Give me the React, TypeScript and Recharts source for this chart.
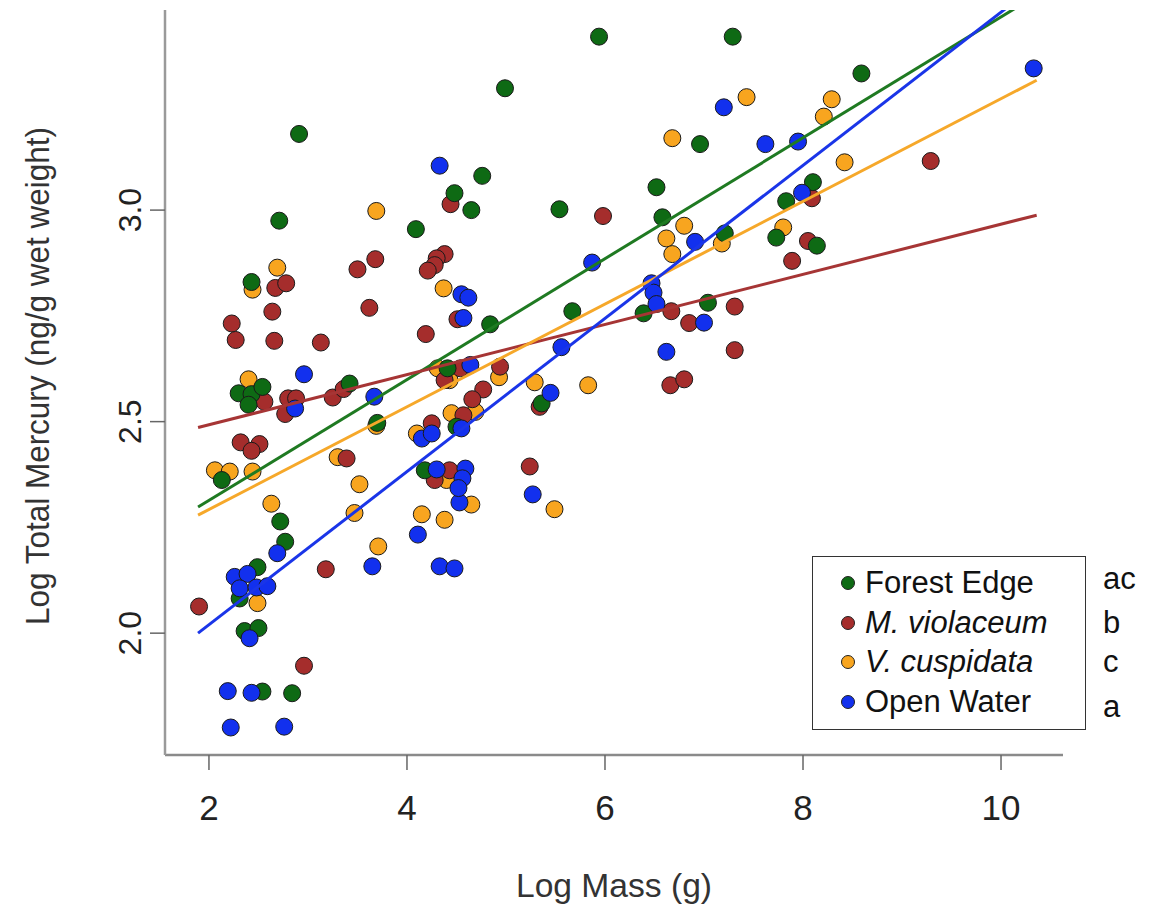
import React from 'react';
import { ScatterChart, Scatter, XAxis, YAxis, Label } from 'recharts';

// log mass (g), log total mercury (ng/g wet weight)
const forestEdge = [
  [2.91, 3.18], [4.48, 3.04], [2.71, 2.975], [4.09, 2.955], [2.43, 2.83], [2.30, 2.567],
  [2.43, 2.565], [2.54, 2.582], [2.40, 2.54], [3.42, 2.59], [3.70, 2.497], [2.13, 2.362],
  [4.50, 2.488], [4.18, 2.385], [2.72, 2.264], [2.77, 2.216], [2.49, 2.156], [2.31, 2.082],
  [2.36, 2.005], [2.50, 2.012], [2.54, 1.862], [2.84, 1.858], [5.94, 3.41], [7.29, 3.41],
  [4.99, 3.288], [6.96, 3.156], [4.76, 3.081], [4.65, 3.0], [5.54, 3.002], [6.52, 3.054],
  [6.58, 2.983], [7.21, 2.945], [4.84, 2.73], [5.67, 2.761], [6.39, 2.756], [7.04, 2.781],
  [5.36, 2.543], [4.41, 2.626], [8.59, 3.323], [8.10, 3.066], [7.83, 3.021], [7.73, 2.935],
  [8.14, 2.916],
];

const violaceum = [
  [4.44, 3.014], [2.67, 2.816], [2.78, 2.827], [3.50, 2.86], [3.68, 2.884], [4.38, 2.896],
  [4.30, 2.886], [4.28, 2.87], [4.21, 2.857], [2.64, 2.76], [3.62, 2.769], [4.51, 2.742],
  [2.23, 2.732], [2.27, 2.693], [2.66, 2.691], [3.13, 2.687], [4.19, 2.707], [2.56, 2.547],
  [2.80, 2.555], [2.88, 2.555], [2.77, 2.518], [3.25, 2.557], [3.36, 2.577], [2.32, 2.451],
  [2.51, 2.447], [2.43, 2.431], [3.39, 2.413], [4.25, 2.496], [4.28, 2.362], [4.43, 2.385],
  [3.18, 2.151], [1.90, 2.063], [2.96, 1.923], [5.98, 2.986], [6.67, 2.761], [7.31, 2.772],
  [6.85, 2.733], [7.31, 2.669], [6.66, 2.586], [6.80, 2.60], [5.34, 2.535], [4.94, 2.63],
  [4.54, 2.626], [4.38, 2.598], [4.77, 2.576], [4.66, 2.553], [4.57, 2.515], [5.24, 2.394],
  [9.29, 3.116], [8.09, 3.028], [8.05, 2.927], [7.89, 2.88],
];

const cuspidata = [
  [3.69, 2.998], [2.69, 2.864], [2.44, 2.812], [4.37, 2.815], [2.40, 2.60], [3.69, 2.49],
  [4.10, 2.472], [3.30, 2.416], [2.06, 2.385], [2.21, 2.382], [2.44, 2.382], [3.52, 2.352],
  [2.63, 2.306], [3.47, 2.284], [3.71, 2.205], [4.15, 2.281], [4.38, 2.268], [2.49, 2.071],
  [7.43, 3.267], [6.68, 3.17], [6.80, 2.963], [6.62, 2.933], [7.18, 2.921], [6.68, 2.896],
  [5.83, 2.586], [5.29, 2.593], [4.93, 2.605], [4.31, 2.626], [4.43, 2.598], [4.45, 2.52],
  [4.69, 2.523], [4.40, 2.362], [4.65, 2.304], [5.49, 2.293], [8.29, 3.262], [8.21, 3.221],
  [8.42, 3.113], [7.80, 2.959],
];

const openWater = [
  [4.33, 3.105], [2.96, 2.612], [2.87, 2.531], [3.67, 2.559], [4.15, 2.46], [4.25, 2.472],
  [2.69, 2.189], [3.65, 2.158], [4.11, 2.233], [4.33, 2.158], [4.48, 2.153], [4.53, 2.309],
  [2.26, 2.133], [2.39, 2.14], [2.31, 2.106], [2.48, 2.108], [2.59, 2.111], [2.41, 1.988],
  [2.19, 1.863], [2.43, 1.859], [2.22, 1.777], [2.76, 1.779], [7.20, 3.243], [6.91, 2.925],
  [5.87, 2.876], [4.55, 2.801], [4.62, 2.793], [4.57, 2.745], [5.56, 2.676], [6.47, 2.827],
  [6.49, 2.805], [6.52, 2.778], [7.00, 2.734], [6.62, 2.665], [5.45, 2.568], [4.64, 2.634],
  [4.55, 2.484], [5.27, 2.328], [4.30, 2.387], [4.59, 2.389], [4.56, 2.366], [4.52, 2.343],
  [10.33, 3.335], [7.62, 3.156], [7.95, 3.162], [7.99, 3.041],
];

// fitted lines, end points
const fitForest = [[1.89, 2.298], [10.36, 3.508]];
const fitViolaceum = [[1.89, 2.486], [10.36, 2.988]];
const fitCuspidata = [[1.89, 2.279], [10.36, 3.307]];
const fitOpen = [[1.89, 2.0], [10.36, 3.533]];

const groupNames = ['Forest Edge', 'M. violaceum', 'V. cuspidata', 'Open Water'];
const groupLetters = ['ac', 'b', 'c', 'a'];
const groupItalic = [false, true, true, false];
const pointColors = ['#0e6a14', '#a52d2c', '#f8a51f', '#1230ee'];
const lineColors = ['#1f7a22', '#a63535', '#f6a82a', '#1a35e8'];

const xTicks = [2, 4, 6, 8, 10];
const yTicks = [2.0, 2.5, 3.0];

const toPts = (arr: number[][]) => arr.map(([x, y]) => ({ x, y }));

const axisFont = "'Liberation Sans', Arial, sans-serif";

const dot = (color: string) => (props: any) => (
  <circle cx={props.cx} cy={props.cy} r={8.5} fill={color} stroke="#1a1a1a" strokeWidth={1} />
);

const noDot = () => <g />;

const YTick = (props: any) => {
  const { x, y, payload } = props;
  return (
    <text x={x} y={y} transform={`rotate(-90 ${x} ${y})`} textAnchor="middle"
      fontSize={32} fill="#222" fontFamily={axisFont}>
      {Number(payload.value).toFixed(1)}
    </text>
  );
};

const XTitle = () => (
  <text x={606} y={889} textAnchor="middle" fontSize={34} fill="#333" fontFamily={axisFont}
    textLength={196} lengthAdjust="spacingAndGlyphs">
    Log Mass (g)
  </text>
);

const YTitle = () => (
  <text x={41} y={368} transform="rotate(-90 41 368)" textAnchor="middle" fontSize={34} fill="#333"
    fontFamily={axisFont} textLength={498} lengthAdjust="spacingAndGlyphs">
    Log Total Mercury (ng/g wet weight)
  </text>
);

const letterShift = [-4, 0, 0, 5];

const LegendBox = () => (
  <div style={{ position: 'absolute', left: 804, top: 548, width: 340, height: 180, fontFamily: axisFont, color: '#111' }}>
    <div style={{ position: 'absolute', left: 0, top: 0, width: 272, height: 172, border: '1.5px solid #333', background: '#fff' }} />
    {groupNames.map((name, i) => (
      <React.Fragment key={name}>
        <div style={{ position: 'absolute', left: 29, top: 9 + i * 39.5 + 11, width: 14, height: 14, borderRadius: 7, background: pointColors[i], boxSizing: 'border-box', border: '1px solid #222' }} />
        <div style={{ position: 'absolute', left: 53, top: 9 + i * 39.5, fontSize: 31, lineHeight: '36px', fontStyle: groupItalic[i] ? 'italic' : 'normal', whiteSpace: 'nowrap' }}>
          {name}
        </div>
        <div style={{ position: 'absolute', left: 291, top: 9 + i * 39.5 + letterShift[i], fontSize: 31, lineHeight: '36px' }}>
          {groupLetters[i]}
        </div>
      </React.Fragment>
    ))}
  </div>
);

const groups = [forestEdge, violaceum, cuspidata, openWater];
const fits = [fitForest, fitViolaceum, fitCuspidata, fitOpen];
const drawOrder = [2, 1, 0, 3];

export default function App() {
  return (
    <div style={{ position: 'relative', width: 1134, height: 900, background: '#fff' }}>
      <ScatterChart width={1134} height={900} margin={{ top: 2, right: 79, bottom: 0, left: 0 }}>
        <XAxis type="number" dataKey="x" domain={[1.556, 10.626]} allowDataOverflow ticks={xTicks}
          height={153} tickSize={15} tickMargin={25}
          axisLine={{ stroke: '#8a8a8a', strokeWidth: 2.5 }} tickLine={{ stroke: '#666', strokeWidth: 1.5 }}
          tick={{ fontSize: 35, fill: '#222', fontFamily: axisFont }}>
          <Label content={XTitle} />
        </XAxis>
        <YAxis type="number" dataKey="y" domain={[1.712, 3.473]} allowDataOverflow ticks={yTicks}
          width={157} tickSize={15} tickMargin={9}
          axisLine={{ stroke: '#9a9a9a', strokeWidth: 2.5 }} tickLine={{ stroke: '#666', strokeWidth: 1.5 }}
          tick={YTick}>
          <Label content={YTitle} />
        </YAxis>
        {drawOrder.map((g) => (
          <Scatter key={'pts' + g} name={groupNames[g]} data={toPts(groups[g])} shape={dot(pointColors[g])} isAnimationActive={false} />
        ))}
        {fits.map((f, i) => (
          <Scatter key={'fit' + i} data={toPts(f)} line={{ stroke: lineColors[i], strokeWidth: 3 }} shape={noDot} legendType="none" isAnimationActive={false} />
        ))}
      </ScatterChart>
      <LegendBox />
    </div>
  );
}
